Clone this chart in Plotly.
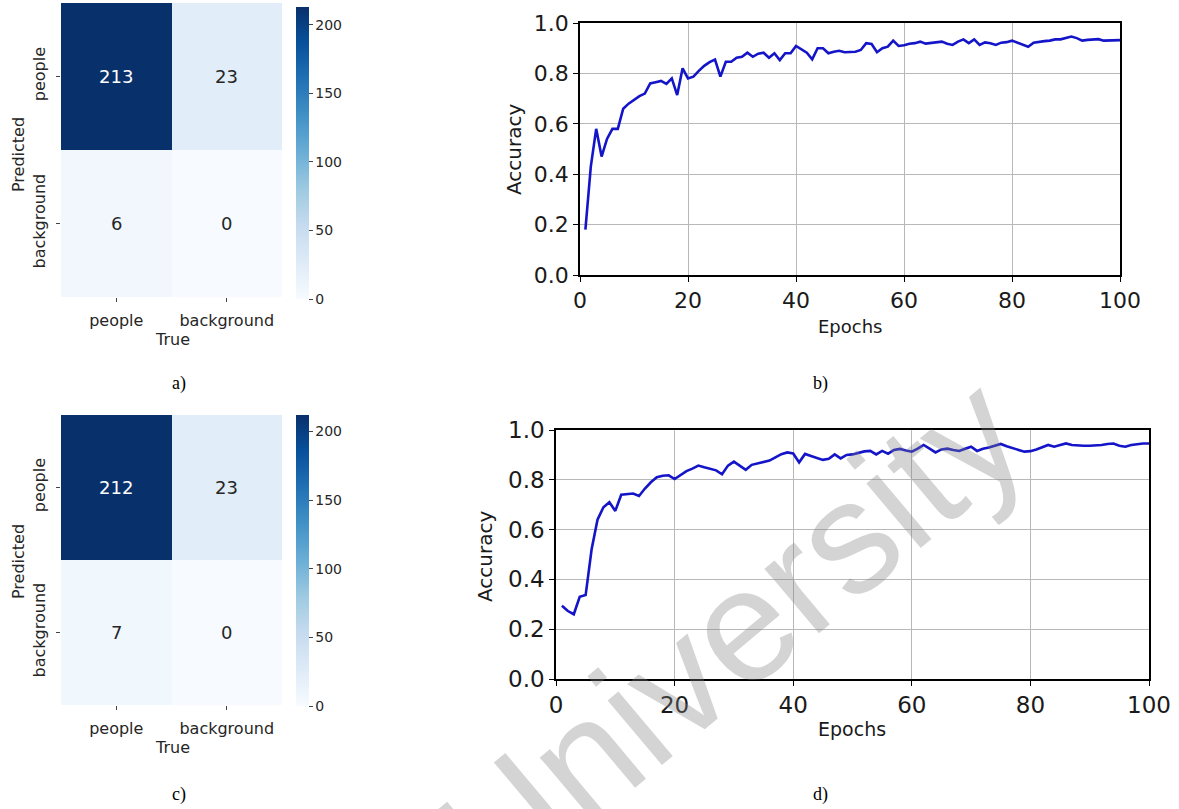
import plotly.graph_objects as go

W, H = 1179, 809

# ---------------- data ----------------
classes = ["people", "background"]
cm_a = [[213, 23], [6, 0]]
cm_c = [[212, 23], [7, 0]]
cbar_ticks = [0, 50, 100, 150, 200]

epochs = list(range(1, 101))
acc_b = [0.18, 0.43, 0.58, 0.47, 0.54, 0.58, 0.58, 0.66, 0.68, 0.695,
         0.71, 0.72, 0.76, 0.765, 0.77, 0.758, 0.78, 0.714, 0.82, 0.78,
         0.787, 0.81, 0.83, 0.845, 0.855, 0.787, 0.846, 0.846, 0.862, 0.866,
         0.882, 0.866, 0.878, 0.882, 0.862, 0.88, 0.853, 0.88, 0.88, 0.909,
         0.896, 0.882, 0.856, 0.9, 0.9, 0.88, 0.886, 0.89, 0.884, 0.886,
         0.886, 0.893, 0.92, 0.917, 0.884, 0.9, 0.906, 0.93, 0.909, 0.912,
         0.918, 0.92, 0.926, 0.918, 0.92, 0.924, 0.926, 0.918, 0.913, 0.926,
         0.935, 0.92, 0.935, 0.913, 0.923, 0.92, 0.913, 0.922, 0.924, 0.93,
         0.922, 0.913, 0.906, 0.922, 0.926, 0.928, 0.93, 0.935, 0.935, 0.94,
         0.946, 0.94, 0.93, 0.933, 0.935, 0.936, 0.93, 0.93, 0.93, 0.932]
acc_d = [0.294, 0.273, 0.26, 0.33, 0.337, 0.52, 0.64, 0.69, 0.71, 0.675,
         0.74, 0.742, 0.745, 0.735, 0.765, 0.79, 0.81, 0.816, 0.818, 0.803,
         0.82, 0.835, 0.845, 0.857, 0.85, 0.845, 0.838, 0.822, 0.857, 0.873,
         0.855, 0.84, 0.86, 0.866, 0.872, 0.877, 0.89, 0.903, 0.91, 0.906,
         0.87, 0.904, 0.896, 0.888, 0.88, 0.884, 0.902, 0.886, 0.9, 0.902,
         0.908, 0.914, 0.916, 0.902, 0.916, 0.905, 0.92, 0.924, 0.918, 0.913,
         0.925, 0.94, 0.925, 0.91, 0.922, 0.925, 0.92, 0.916, 0.925, 0.933,
         0.916, 0.925, 0.93, 0.938, 0.944, 0.935, 0.929, 0.92, 0.913, 0.915,
         0.922, 0.93, 0.94, 0.933, 0.94, 0.946, 0.94, 0.937, 0.937, 0.937,
         0.938, 0.94, 0.944, 0.946, 0.937, 0.933, 0.94, 0.944, 0.946, 0.946]
x_ticks = [0, 20, 40, 60, 80, 100]
y_ticks = [0.0, 0.2, 0.4, 0.6, 0.8, 1.0]

# ---------------- helpers ----------------
def px(x):
    return x / W

def py(y):
    return 1 - y / H

BLUES = [[0.0, "#f7fbff"], [0.125, "#deebf7"], [0.25, "#c6dbef"],
         [0.375, "#9ecae1"], [0.5, "#6baed6"], [0.625, "#4292c6"],
         [0.75, "#2171b5"], [0.875, "#08519c"], [1.0, "#08306b"]]

FONT = "DejaVu Sans, Arial, sans-serif"
SERIF = "Liberation Serif, Times New Roman, serif"

fig = go.Figure()

def heat_trace(z, xa, ya, top, bottom):
    zmax = max(max(r) for r in z)
    return go.Heatmap(
        z=z, x=classes, y=classes, xaxis=xa, yaxis=ya,
        colorscale=BLUES, zmin=0, zmax=zmax, showscale=True,
        hoverinfo="skip",
        colorbar=dict(
            x=px(296), xanchor="left", xpad=0, ypad=0,
            y=py(top), yanchor="top",
            len=(bottom - top) / H, lenmode="fraction", thickness=13,
            outlinewidth=0, ticks="outside", ticklen=4, tickcolor="#444",
            tickvals=cbar_ticks,
            tickfont=dict(family=FONT, size=14, color="#262626"),
        ),
    )

fig.add_trace(heat_trace(cm_a, "x", "y", 7, 299))
fig.add_trace(heat_trace(cm_c, "x3", "y3", 415, 706))

line_color = "#1414c8"
fig.add_trace(go.Scatter(x=epochs, y=acc_b, mode="lines", xaxis="x2", yaxis="y2",
                         line=dict(color=line_color, width=2.6), showlegend=False))
fig.add_trace(go.Scatter(x=epochs, y=acc_d, mode="lines", xaxis="x4", yaxis="y4",
                         line=dict(color=line_color, width=2.6), showlegend=False))

annotations = []
for z, xa, ya in [(cm_a, "x", "y"), (cm_c, "x3", "y3")]:
    zmax = max(max(r) for r in z)
    for i, row in enumerate(z):
        for j, v in enumerate(row):
            annotations.append(dict(
                x=classes[j], y=classes[i], xref=xa, yref=ya, text=str(v),
                showarrow=False, xanchor="center", yanchor="middle",
                font=dict(family=FONT, size=18,
                          color="white" if v > zmax / 2 else "#262626")))

heat_ax = dict(showgrid=False, zeroline=False, showline=False, ticks="outside",
               ticklen=4, tickcolor="#444", automargin=False,
               ticklabelstandoff=5,
               tickfont=dict(family=FONT, size=16, color="#262626"))

def line_x(dom, size):
    return dict(domain=dom, range=[0, 100], tickvals=x_ticks, showgrid=True,
                gridcolor="#b8b8b8", gridwidth=1, zeroline=False, showline=True,
                linecolor="black", linewidth=1.5, mirror=True, ticks="outside",
                ticklen=5, tickcolor="black", automargin=False,
                tickfont=dict(family=FONT, size=size, color="#1a1a1a"))

def line_y(dom, size):
    return dict(domain=dom, range=[0, 1], tickvals=y_ticks, tickformat=".1f",
                showgrid=True, gridcolor="#b8b8b8", gridwidth=1, zeroline=False,
                showline=True, linecolor="black", linewidth=1.5, mirror=True,
                ticks="outside", ticklen=5, tickcolor="black", automargin=False,
                tickfont=dict(family=FONT, size=size, color="#1a1a1a"))

def txt(x, y, s, size, angle=0, family=FONT, color="#1a1a1a"):
    annotations.append(dict(x=px(x), y=py(y), xref="paper", yref="paper", text=s,
                            showarrow=False, textangle=angle,
                            xanchor="center", yanchor="middle",
                            font=dict(family=family, size=size, color=color)))

txt(18, 155, "Predicted", 16, -90, color="#262626")
txt(172, 339, "True", 16, color="#262626")
txt(18, 562, "Predicted", 16, -90, color="#262626")
txt(172, 747, "True", 16, color="#262626")
txt(514, 150, "Accuracy", 20, -90)
txt(850, 327, "Epochs", 18)
txt(485, 557, "Accuracy", 20, -90)
txt(852, 729, "Epochs", 19)
txt(179, 383, "a)", 18, family=SERIF, color="black")
txt(820, 383, "b)", 18, family=SERIF, color="black")
txt(179, 794, "c)", 18, family=SERIF, color="black")
txt(820, 794, "d)", 18, family=SERIF, color="black")

# watermark
annotations.append(dict(x=px(730), y=py(635), xref="paper", yref="paper",
                        text="University", showarrow=False, textangle=-40,
                        xanchor="center", yanchor="middle",
                        font=dict(family="Liberation Sans, Arial, sans-serif",
                                  size=160, color="rgba(128,128,128,0.34)")))

fig.update_layout(
    template="none",
    width=W, height=H, margin=dict(l=0, r=0, t=0, b=0, autoexpand=False),
    paper_bgcolor="white", plot_bgcolor="white", showlegend=False,
    xaxis=dict(domain=[px(61), px(282)], anchor="y", **heat_ax),
    yaxis=dict(domain=[py(297), py(3)], anchor="x", autorange="reversed",
               tickangle=-90, **heat_ax),
    xaxis3=dict(domain=[px(61), px(282)], anchor="y3", **heat_ax),
    yaxis3=dict(domain=[py(705), py(415)], anchor="x3", autorange="reversed",
                tickangle=-90, **heat_ax),
    xaxis2=dict(anchor="y2", **line_x([px(580), px(1120)], 22)),
    yaxis2=dict(anchor="x2", **line_y([py(275), py(23)], 22)),
    xaxis4=dict(anchor="y4", **line_x([px(556), px(1149)], 23)),
    yaxis4=dict(anchor="x4", **line_y([py(679), py(430)], 23)),
    annotations=annotations,
)

fig.write_html(
    "out.html",
    config={"displayModeBar": False},
    post_script="document.body.style.margin='0';document.body.style.overflow='hidden';",
)
